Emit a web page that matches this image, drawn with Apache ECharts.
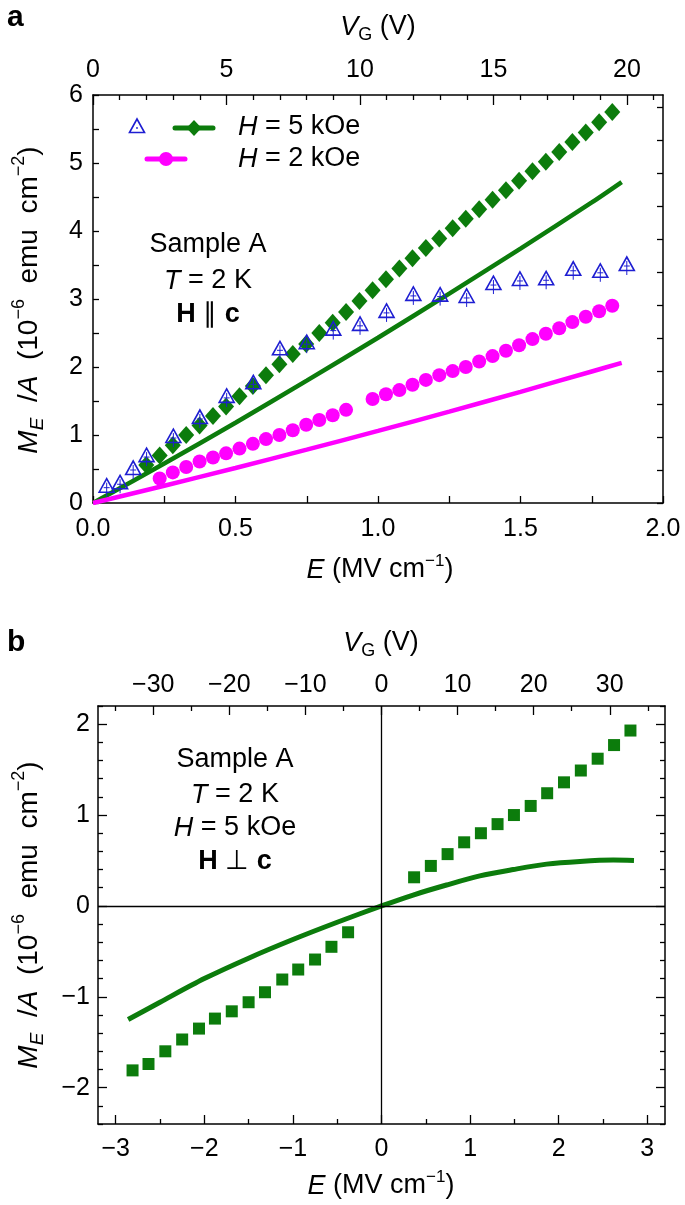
<!DOCTYPE html>
<html><head><meta charset="utf-8">
<script src="https://cdn.jsdelivr.net/npm/echarts@6/dist/echarts.min.js"></script>
<style>html,body{margin:0;padding:0;background:#fff}#c{width:685px;height:1205px}</style>
</head><body><div id="c"></div><script>
// ---------- Panel a data (E in MV/cm, M_E/A in 1e-6 emu/cm2) ----------
const aTriE = [0.048,0.095,0.141,0.188,0.282,0.375,0.469,0.5625,0.656,0.75,0.843,0.937,1.03,1.124,1.218,1.311,1.405,1.498,1.59,1.685,1.78,1.873];
const aTriM = [0.24,0.29,0.50,0.69,0.97,1.25,1.56,1.76,2.26,2.35,2.55,2.62,2.81,3.06,3.05,3.03,3.22,3.28,3.29,3.43,3.40,3.50];
const aDiaE = [0.187,0.234,0.280,0.327,0.374,0.421,0.467,0.514,0.561,0.607,0.654,0.701,0.748,0.794,0.841,0.888,0.935,0.981,1.028,1.075,1.121,1.168,1.215,1.262,1.308,1.355,1.402,1.449,1.495,1.542,1.589,1.636,1.682,1.729,1.776,1.822];
const aDiaM = [0.56,0.70,0.85,1.00,1.14,1.28,1.42,1.57,1.72,1.88,2.04,2.19,2.34,2.50,2.65,2.81,2.97,3.13,3.29,3.45,3.60,3.75,3.89,4.04,4.18,4.32,4.46,4.60,4.74,4.88,5.02,5.16,5.31,5.45,5.60,5.75];
const aCirE = [0.234,0.280,0.327,0.374,0.421,0.467,0.514,0.561,0.607,0.654,0.701,0.748,0.794,0.841,0.888,0.981,1.028,1.075,1.121,1.168,1.215,1.262,1.308,1.355,1.402,1.449,1.495,1.542,1.589,1.636,1.682,1.729,1.776,1.822];
const aCirM = [0.36,0.45,0.53,0.61,0.67,0.73,0.80,0.87,0.94,1.00,1.07,1.15,1.22,1.29,1.37,1.53,1.60,1.66,1.74,1.81,1.88,1.94,2.00,2.08,2.16,2.24,2.32,2.41,2.49,2.57,2.66,2.74,2.82,2.90];
const aLine5E = [0,0.25,0.5,0.75,1.0,1.25,1.5,1.75,1.855];
const aLine5M = [0,0.58,1.18,1.80,2.43,3.08,3.74,4.42,4.72];
const aLine2E = [0,0.25,0.5,0.75,1.0,1.25,1.5,1.75,1.855];
const aLine2M = [0,0.254,0.515,0.784,1.06,1.344,1.635,1.934,2.06];
// ---------- Panel b data ----------
const bSqE = [-2.81,-2.63,-2.44,-2.25,-2.06,-1.88,-1.69,-1.50,-1.315,-1.12,-0.94,-0.75,-0.565,-0.377,
              0.368,0.557,0.746,0.933,1.122,1.31,1.495,1.684,1.87,2.06,2.25,2.44,2.625,2.81];
const bSqM = [-1.81,-1.74,-1.60,-1.47,-1.35,-1.24,-1.16,-1.06,-0.95,-0.81,-0.70,-0.59,-0.45,-0.29,
              0.315,0.44,0.57,0.70,0.80,0.90,1.00,1.10,1.24,1.36,1.49,1.62,1.77,1.93];
const bLineE = [-2.86,-2.5,-2.0,-1.5,-1.0,-0.5,0,0.357,0.734,1.11,1.487,1.864,2.24,2.617,2.85];
const bLineM = [-1.25,-1.06,-0.80,-0.575,-0.37,-0.18,0,0.12,0.23,0.33,0.40,0.46,0.49,0.505,0.50];
// ---------- tick labels ----------
const aXLabels = [0,0.5,1.0,1.5,2.0];
const aXTicks = [0,0.25,0.5,0.75,1,1.25,1.5,1.75,2];
const aYLabels = [0,1,2,3,4,5,6];
const aYTicks = [0,0.5,1,1.5,2,2.5,3,3.5,4,4.5,5,5.5,6];
const aVLabels = [0,5,10,15,20];
const aVMinor = [1,2,3,4,6,7,8,9,11,12,13,14,16,17,18,19,21];
const bXLabels = [-3,-2,-1,0,1,2,3];
const bXMinor = [-2.5,-1.5,-0.5,0.5,1.5,2.5];
const bVLabels = [-30,-20,-10,0,10,20,30];
const bVMinor = [-35,-25,-15,-5,5,15,25,35];
const bYLabels = [-2,-1,0,1,2];
const bYMinor = [-2.4,-2.2,-1.8,-1.6,-1.4,-1.2,-0.8,-0.6,-0.4,-0.2,0.2,0.4,0.6,0.8,1.2,1.4,1.6,1.8,2.2];

const GREEN = '#0c7c0c', MAG = '#ff00ff', BLUE = '#1e1ed2';
const FONT = '"Liberation Sans", Arial, Helvetica, sans-serif';
const pts = (xs, ys) => xs.map((x, i) => [x, ys[i]]);
const minus = v => String(v).replace('-', '\u2212');

function axis(o) {
  return {
    type: 'value', gridIndex: o.grid, position: o.pos, min: o.min, max: o.max,
    axisLine: { show: o.line !== false, onZero: false, lineStyle: { color: '#000', width: 1.5 } },
    axisTick: { show: true, inside: true, length: o.tl || 6, customValues: o.ticks, lineStyle: { color: '#000', width: 1.3 } },
    axisLabel: o.labels ? { show: true, customValues: o.labels, formatter: o.fmt || (v => minus(v)), fontSize: 25, color: '#000', fontFamily: FONT, margin: o.margin || 8 } : { show: false },
    splitLine: { show: false }, axisPointer: { show: false }
  };
}

const xAxes = [
  axis({ grid: 0, pos: 'bottom', min: 0, max: 2, ticks: aXTicks, labels: aXLabels, fmt: v => v.toFixed(1), tl: 7, margin: 14 }),
  axis({ grid: 0, pos: 'top', min: 0, max: 21.35, ticks: aVLabels, labels: aVLabels, tl: 10, margin: 12 }),
  axis({ grid: 0, pos: 'top', min: 0, max: 21.35, ticks: aVMinor, tl: 5, line: false }),
  axis({ grid: 1, pos: 'bottom', min: -3.2, max: 3.2, ticks: bXLabels, labels: bXLabels, tl: 9, margin: 13 }),
  axis({ grid: 1, pos: 'bottom', min: -3.2, max: 3.2, ticks: bXMinor, tl: 5, line: false }),
  axis({ grid: 1, pos: 'top', min: -37.26, max: 37.26, ticks: bVLabels, labels: bVLabels, tl: 9, margin: 8 }),
  axis({ grid: 1, pos: 'top', min: -37.26, max: 37.26, ticks: bVMinor, tl: 5, line: false })
];
const yAxes = [
  axis({ grid: 0, pos: 'left', min: 0, max: 6, ticks: aYTicks, labels: aYLabels, tl: 6, margin: 10 }),
  axis({ grid: 0, pos: 'right', min: 0, max: 6.18, ticks: aYTicks, tl: 6 }),
  axis({ grid: 1, pos: 'left', min: -2.4, max: 2.2, ticks: bYLabels, labels: bYLabels, tl: 9, margin: 8 }),
  axis({ grid: 1, pos: 'left', min: -2.4, max: 2.2, ticks: bYMinor, tl: 5, line: false }),
  axis({ grid: 1, pos: 'right', min: -2.4, max: 2.2, ticks: bYLabels, tl: 9 }),
  axis({ grid: 1, pos: 'right', min: -2.4, max: 2.2, ticks: bYMinor, tl: 5, line: false })
];

function mkRich(s) {
  return {
    n: { fontSize: s, fontFamily: FONT, color: '#000' },
    i: { fontSize: s, fontFamily: FONT, fontStyle: 'italic', color: '#000' },
    b: { fontSize: s, fontFamily: FONT, fontWeight: 'bold', color: '#000' },
    sub: { fontSize: Math.round(s * 0.68), fontFamily: FONT, color: '#000', verticalAlign: 'bottom', padding: [Math.round(s * 0.6), 0, 0, 0] },
    subi: { fontSize: Math.round(s * 0.68), fontFamily: FONT, fontStyle: 'italic', color: '#000', verticalAlign: 'bottom', padding: [Math.round(s * 0.6), 0, 0, 0] },
    sup: { fontSize: Math.round(s * 0.64), fontFamily: FONT, color: '#000', verticalAlign: 'top', padding: [0, 0, Math.round(s * 0.68), 0] }
  };
}
const rich = mkRich(27);
const richY = mkRich(28);
const richBig = mkRich(27);
function txt(x, y, text, opt) {
  opt = opt || {};
  return { type: 'text', x: x, y: y, rotation: opt.rot || 0, z: 100,
    style: { text: text, rich: opt.rich || rich, align: opt.align || 'center', verticalAlign: 'middle', fontSize: 26, fontFamily: FONT, fill: '#000' } };
}
const yTitle = '{i|M}{subi|E}{n|  /}{i|A}{n|  (10}{sup|\u22126}{n|  emu  cm}{sup|\u22122}{n|)}';
const xTitle = '{i|E}{n| (MV cm}{sup|\u22121}{n|)}';
const vTitle = '{i|V}{sub|G}{n| (V)}';

const graphics = [
  { type: 'text', x: 7, y: 3, style: { text: 'a', font: 'bold 30px ' + FONT, fill: '#000' } },
  { type: 'text', x: 7, y: 628, style: { text: 'b', font: 'bold 30px ' + FONT, fill: '#000' } },
  txt(378, 27, vTitle), txt(380, 570, xTitle), txt(29, 300, yTitle, { rot: Math.PI / 2, rich: richY }),
  txt(381, 643, vTitle), txt(381, 1186, xTitle), txt(29, 915, yTitle, { rot: Math.PI / 2, rich: richY }),
  // annotations a
  txt(208, 245, '{n|Sample A}', { rich: richBig }),
  txt(208, 281, '{i|T}{n| = 2 K}', { rich: richBig }),
  txt(208, 315, '{b|H}{n| \u2225 }{b|c}', { rich: richBig }),
  // annotations b
  txt(235, 760, '{n|Sample A}', { rich: richBig }),
  txt(235, 795, '{i|T}{n| = 2 K}', { rich: richBig }),
  txt(235, 828, '{i|H}{n| = 5 kOe}', { rich: richBig }),
  txt(235, 862, '{b|H}{n| \u22a5 }{b|c}', { rich: richBig }),
  // legend a
  { type: 'polygon', shape: { points: [[137, 119], [129.5, 132.5], [144.5, 132.5]] }, style: { fill: 'none', stroke: BLUE, lineWidth: 1.6 }, z: 100 },
  { type: 'circle', shape: { cx: 137, cy: 128, r: 0.9 }, style: { fill: BLUE }, z: 100 },
  { type: 'line', shape: { x1: 175, y1: 128, x2: 213, y2: 128 }, style: { stroke: GREEN, lineWidth: 5, lineCap: 'round' }, z: 100 },
  { type: 'polygon', shape: { points: [[194, 120], [201.5, 128], [194, 136], [186.5, 128]] }, style: { fill: GREEN }, z: 101 },
  { type: 'line', shape: { x1: 147, y1: 159, x2: 185, y2: 159 }, style: { stroke: MAG, lineWidth: 5, lineCap: 'round' }, z: 100 },
  { type: 'circle', shape: { cx: 166, cy: 159, r: 7 }, style: { fill: MAG }, z: 101 },
  txt(238, 127, '{i|H}{n| = 5 kOe}', { rich: richBig, align: 'left' }),
  txt(238, 159, '{i|H}{n| = 2 kOe}', { rich: richBig, align: 'left' })
];

const chart = echarts.init(document.getElementById('c'), null, { renderer: 'canvas' });
chart.setOption({
  animation: false,
  backgroundColor: '#fff',
  grid: [
    { left: 93, top: 95, width: 570, height: 408 },
    { left: 98, top: 706, width: 567, height: 418 }
  ],
  xAxis: xAxes,
  yAxis: yAxes,
  graphic: graphics,
  series: [
    { type: 'line', xAxisIndex: 0, yAxisIndex: 0, data: pts(aLine5E, aLine5M), showSymbol: false, smooth: 0.3,
      lineStyle: { color: GREEN, width: 4.5 }, z: 2 },
    { type: 'line', xAxisIndex: 0, yAxisIndex: 0, data: pts(aLine2E, aLine2M), showSymbol: false, smooth: 0.3,
      lineStyle: { color: MAG, width: 4.5 }, z: 2 },
    { type: 'scatter', xAxisIndex: 0, yAxisIndex: 0, data: pts(aDiaE, aDiaM), symbol: 'diamond', symbolSize: [16, 18],
      itemStyle: { color: GREEN, opacity: 1 }, z: 3 },
    { type: 'scatter', xAxisIndex: 0, yAxisIndex: 0, data: pts(aCirE, aCirM), symbol: 'circle', symbolSize: 14,
      itemStyle: { color: MAG, opacity: 1 }, z: 3 },
    { type: 'custom', xAxisIndex: 0, yAxisIndex: 0, data: pts(aTriE, aTriM), encode: { x: 0, y: 1 }, z: 4,
      renderItem: function (params, api) {
        const p = api.coord([api.value(0), api.value(1)]);
        const x = p[0], y = p[1];
        return { type: 'group', children: [
          { type: 'polygon', shape: { points: [[x, y - 8], [x - 7.5, y + 5.5], [x + 7.5, y + 5.5]] }, style: { fill: 'none', stroke: BLUE, lineWidth: 1.6 } },
          { type: 'line', shape: { x1: x, y1: y - 4, x2: x, y2: y + 10 }, style: { stroke: BLUE, lineWidth: 1 } },
          { type: 'line', shape: { x1: x - 3, y1: y + 1, x2: x + 3, y2: y + 1 }, style: { stroke: BLUE, lineWidth: 1 } }
        ] };
      } },
    { type: 'line', xAxisIndex: 3, yAxisIndex: 2, data: [], z: 1,
      markLine: { silent: true, symbol: ['none', 'none'], label: { show: false }, animation: false,
        lineStyle: { color: '#000', width: 1.3, type: 'solid' }, data: [{ xAxis: 0 }, { yAxis: 0 }] } },
    { type: 'line', xAxisIndex: 3, yAxisIndex: 2, data: pts(bLineE, bLineM), showSymbol: false, smooth: 0.3,
      lineStyle: { color: GREEN, width: 5 }, z: 2 },
    { type: 'scatter', xAxisIndex: 3, yAxisIndex: 2, data: pts(bSqE, bSqM), symbol: 'rect', symbolSize: 12,
      itemStyle: { color: GREEN, opacity: 1 }, z: 3 }
  ]
});
</script></body></html>
